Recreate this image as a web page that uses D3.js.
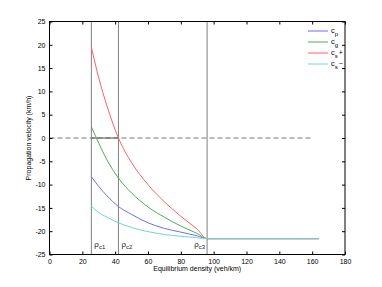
<!DOCTYPE html>
<html>
<head>
<meta charset="utf-8">
<script src="https://cdn.jsdelivr.net/npm/d3@7"></script>
<style>
  body { margin: 0; background: #fff; }
  text { font-family: "Liberation Sans", Arial, sans-serif; }
</style>
</head>
<body>
<div id="chart"></div>
<script>
// density values (veh/km) where each curve was read
var rho = [25.5, 30, 35, 42, 50, 60, 70, 80, 90, 96, 164];
// propagation velocities (km/h)
var cp  = [-8.3, -10.4, -12.4, -14.7, -16.4, -18.2, -19.4, -20.2, -21.0, -21.6, -21.6];
var cg  = [2.4, -1.1, -4.7, -8.6, -11.8, -14.8, -17.0, -18.9, -20.5, -21.6, -21.6];
var csp = [19.5, 12.9, 6.9, 0, -5.3, -10.0, -13.7, -16.8, -19.6, -21.6, -21.6];
var csm = [-14.6, -16.0, -17.0, -18.2, -19.2, -20.1, -20.7, -21.1, -21.4, -21.6, -21.6];

var critical = [25.5, 42, 96];
var criticalLabels = ["c1", "c2", "c3"];
var xTicks = [0, 20, 40, 60, 80, 100, 120, 140, 160, 180];
var yTicks = [-25, -20, -15, -10, -5, 0, 5, 10, 15, 20, 25];

var series = [
  { name: "p", suffix: "", values: cp, color: "#6b6bff" },
  { name: "g", suffix: "", values: cg, color: "#4fae4f" },
  { name: "s", suffix: "+", values: csp, color: "#ff6161" },
  { name: "s", suffix: "\u2212", values: csm, color: "#6fd6d8" }
];

var W = 382, H = 287;
var m = { left: 49.5, right: 37, top: 21.5, bottom: 32.5 };

var svg = d3.select("#chart").append("svg")
  .attr("width", W).attr("height", H);

var x = d3.scaleLinear().domain([0, 180]).range([m.left, W - m.right]);
var y = d3.scaleLinear().domain([-25, 25]).range([H - m.bottom, m.top]);

// zero reference line (dashed)
svg.append("line")
  .attr("x1", x(0)).attr("x2", x(160))
  .attr("y1", y(0)).attr("y2", y(0))
  .attr("stroke", "#777").attr("stroke-width", 1)
  .attr("stroke-dasharray", "5,3");
svg.append("line")
  .attr("x1", x(critical[0])).attr("x2", x(critical[1]))
  .attr("y1", y(0)).attr("y2", y(0))
  .attr("stroke", "#555").attr("stroke-width", 1);

// critical density lines
svg.selectAll(".crit").data(critical).enter().append("line")
  .attr("x1", function(d){ return x(d); }).attr("x2", function(d){ return x(d); })
  .attr("y1", y(25)).attr("y2", y(-25))
  .attr("stroke", "#808080").attr("stroke-width", 1);

var lab = svg.selectAll(".clab").data(critical).enter().append("text")
  .attr("x", function(d, i){ return i == 2 ? x(d) - 2 : x(d) + 3; })
  .attr("text-anchor", function(d, i){ return i == 2 ? "end" : "start"; })
  .attr("y", y(-23.3))
  .attr("font-size", 8).attr("fill", "#222");
lab.append("tspan").text("\u03c1");
lab.append("tspan").attr("dy", 2).attr("font-size", 6)
  .text(function(d, i){ return criticalLabels[i]; });

// curves
var line = d3.line()
  .x(function(d, i){ return x(rho[i]); })
  .y(function(d){ return y(d); })
  .curve(d3.curveMonotoneX);

series.forEach(function(s){
  svg.append("path")
    .attr("d", line(s.values))
    .attr("fill", "none")
    .attr("stroke", s.color)
    .attr("stroke-width", 1);
});

// axes box
var axisColor = "#000";
svg.append("rect")
  .attr("x", x(0)).attr("y", y(25))
  .attr("width", x(180) - x(0)).attr("height", y(-25) - y(25))
  .attr("fill", "none").attr("stroke", axisColor).attr("stroke-width", 1);

var gx = svg.append("g").attr("transform", "translate(0," + y(-25) + ")")
  .call(d3.axisBottom(x).tickValues(xTicks).tickSize(-3).tickPadding(5));
var gxt = svg.append("g").attr("transform", "translate(0," + y(25) + ")")
  .call(d3.axisTop(x).tickValues(xTicks).tickSize(-3).tickFormat(""));
var gy = svg.append("g").attr("transform", "translate(" + x(0) + ",0)")
  .call(d3.axisLeft(y).tickValues(yTicks).tickSize(-3).tickPadding(4)
    .tickFormat(function(d){ return String(d); }));
var gyr = svg.append("g").attr("transform", "translate(" + x(180) + ",0)")
  .call(d3.axisRight(y).tickValues(yTicks).tickSize(-3).tickFormat(""));

[gx, gxt, gy, gyr].forEach(function(g){
  g.select(".domain").remove();
  g.selectAll("line").attr("stroke", axisColor);
  g.selectAll("text").attr("font-size", 7).attr("fill", "#000")
    .attr("font-family", "Liberation Sans, Arial, sans-serif");
});

// axis labels
svg.append("text")
  .attr("x", (x(0) + x(180)) / 2).attr("y", 271)
  .attr("text-anchor", "middle").attr("font-size", 7)
  .text("Equilibrium density (veh/km)");
svg.append("text")
  .attr("transform", "translate(31," + ((y(25) + y(-25)) / 2) + ") rotate(-90)")
  .attr("text-anchor", "middle").attr("font-size", 7)
  .text("Propagation velocity (km/h)");

// legend
var leg = svg.append("g");
series.forEach(function(s, i){
  var ly = 31 + i * 11;
  leg.append("line")
    .attr("x1", 308).attr("x2", 328).attr("y1", ly).attr("y2", ly)
    .attr("stroke", s.color).attr("stroke-width", 1);
  var t = leg.append("text").attr("x", 331).attr("y", ly + 1.5)
    .attr("font-size", 7.5).attr("fill", "#000");
  t.append("tspan").text("c");
  t.append("tspan").attr("dy", 3.5).attr("font-size", 6).text(s.name);
  if (s.suffix) t.append("tspan").attr("dy", -3.5).attr("dx", 1)
    .attr("font-size", 7).text(s.suffix);
});
</script>
</body>
</html>
